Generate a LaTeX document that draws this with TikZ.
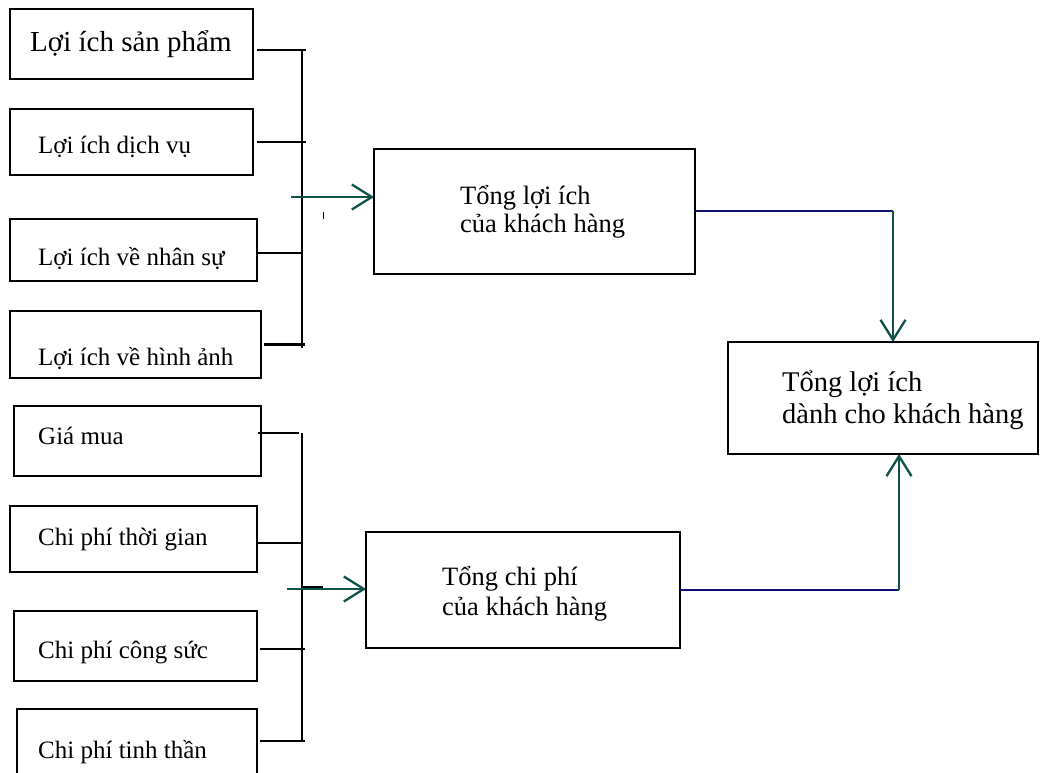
\documentclass[tikz,border=0pt]{standalone}
\usepackage{fontspec}
\setmainfont{Liberation Serif}
\usetikzlibrary{arrows.meta,calc}
\definecolor{arrowteal}{RGB}{14,82,74}
\definecolor{linknavy}{RGB}{16,16,112}
\begin{document}
\begin{tikzpicture}[x=1pt,y=-1pt,
  box/.style={draw=black, line width=2.2pt, anchor=north west, inner sep=0pt, outer sep=0pt},
  lbl/.style={anchor=base west, inner sep=0pt, font=\fontsize{25}{30}\selectfont},
  lblbig/.style={anchor=base west, inner sep=0pt, font=\fontsize{29}{34}\selectfont},
  lblmid/.style={anchor=base west, inner sep=0pt, font=\fontsize{26.5}{31}\selectfont},
  lblright/.style={anchor=base west, inner sep=0pt, font=\fontsize{28.5}{33}\selectfont},
  conn/.style={draw=black, line width=2.2pt},
  navyline/.style={draw=linknavy, line width=2pt},
  tealarrow/.style={draw=arrowteal, line width=2.3pt, -{Straight Barb[length=20pt,width=25pt]}},
]
\useasboundingbox (0,0) rectangle (1041,772);

% left boxes (benefits)
\node[box, minimum width=243pt, minimum height=70pt] (b1) at (10,9) {};
\node[box, minimum width=243pt, minimum height=66pt] (b2) at (10,109) {};
\node[box, minimum width=247pt, minimum height=62pt] (b3) at (10,219) {};
\node[box, minimum width=251pt, minimum height=67pt] (b4) at (10,311) {};
% left boxes (costs)
\node[box, minimum width=247pt, minimum height=70pt] (c1) at (14,406) {};
\node[box, minimum width=247pt, minimum height=66pt] (c2) at (10,506) {};
\node[box, minimum width=243pt, minimum height=70pt] (c3) at (14,611) {};
\node[box, minimum width=240pt, minimum height=66pt] (c4) at (17,709) {};
% middle and right boxes
\node[box, minimum width=321pt, minimum height=125pt] (m1) at (374,149) {};
\node[box, minimum width=314pt, minimum height=116pt] (m2) at (366,532) {};
\node[box, minimum width=310pt, minimum height=112pt] (r) at (728,342) {};

% labels
\node[lblbig] (tb1) at (30,51) {Lợi ích sản phẩm};
\node[lbl] (tb2) at (38,153) {Lợi ích dịch vụ};
\node[lbl] (tb3) at (38,265) {Lợi ích về nhân sự};
\node[lbl] (tb4) at (38,365) {Lợi ích về hình ảnh};
\node[lbl] (tc1) at (38,444) {Giá mua};
\node[lbl] (tc2) at (38,545) {Chi phí thời gian};
\node[lbl] (tc3) at (38,658) {Chi phí công sức};
\node[lbl] (tc4) at (38,758) {Chi phí tinh thần};
\node[lblmid] (tm1a) at (460,204) {Tổng lợi ích};
\node[lblmid] (tm1b) at (460,232) {của khách hàng};
\node[lblmid] (tm2a) at (442,585) {Tổng chi phí};
\node[lblmid] (tm2b) at (442,615) {của khách hàng};
\node[lblright] (tra) at (782,391) {Tổng lợi ích};
\node[lblright] (trb) at (782,423) {dành cho khách hàng};

% bus coordinates
\coordinate (busAtop) at (302,50);
\coordinate (busAbot) at (302,348);
\coordinate (busBtop) at (302,433);
\coordinate (busBbot) at (302,742);
\coordinate (arrAstart) at (291,197);
\coordinate (arrBstart) at (287,589);
\coordinate (jA) at (893,211);
\coordinate (jB) at (899,590);

% benefit connectors
\draw[conn] (busAtop) -- (busAbot);
\draw[conn] ([shift={(4,6)}]b1.east) -- ([shift={(4,6)}]b1.east -| busAtop);
\draw[conn] ([shift={(4,0)}]b2.east) -- ([shift={(4,0)}]b2.east -| busAtop);
\draw[conn] ([shift={(1,3)}]b3.east) -- ([shift={(1,3)}]b3.east -| busAtop);
\draw[conn] ([shift={(3,0)}]b4.east) -- ([shift={(3,0)}]b4.east -| busAtop);

% cost connectors
\draw[conn] (busBtop) -- (busBbot);
\draw[conn] ([shift={(-3,-8)}]c1.east) -- ([shift={(-3,-8)}]c1.east -| busBtop);
\draw[conn] ([shift={(1,4)}]c2.east) -- ([shift={(1,4)}]c2.east -| busBtop);
\draw[conn] ([shift={(3,3)}]c3.east) -- ([shift={(3,3)}]c3.east -| busBtop);
\draw[conn] ([shift={(3,-1)}]c4.east) -- ([shift={(3,-1)}]c4.east -| busBtop);

% small marks
\draw[black, line width=1.2pt] (302,587) -- (323,587);
\draw[black, line width=1pt] (323,212) -- (323,219);

% arrows into totals
\draw[tealarrow] (arrAstart) -- (arrAstart -| m1.west);
\draw[tealarrow] (arrBstart) -- (arrBstart -| m2.west);

% to final box
\draw[navyline] (m1.east |- jA) -- (jA);
\draw[tealarrow] (jA) -- (jA |- r.north);
\draw[navyline] (m2.east |- jB) -- (jB);
\draw[tealarrow] (jB) -- (jB |- r.south);
\end{tikzpicture}
\end{document}
